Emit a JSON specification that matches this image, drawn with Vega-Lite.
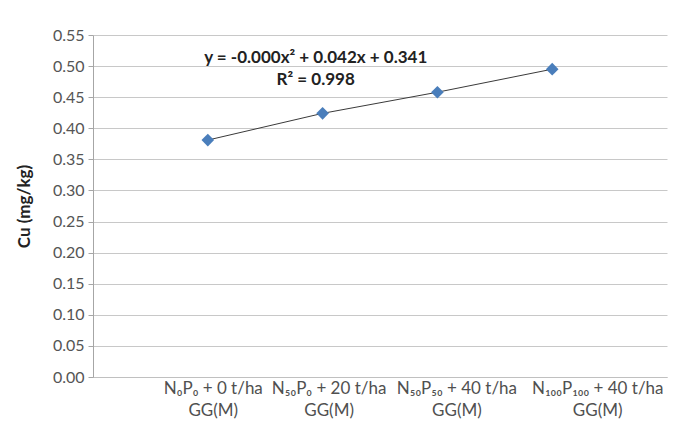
{
  "$schema": "https://vega.github.io/schema/vega-lite/v6.json",
  "autosize": "none",
  "width": 574,
  "height": 342,
  "padding": {"left": 93, "top": 35, "right": 11, "bottom": 48},
  "background": "white",
  "config": {
    "font": "Lato",
    "view": {"stroke": null}
  },
  "datasets": {
    "points": [
      {"pos": 1, "treatment": "N₀P₀ + 0 t/ha GG(M)", "cu": 0.381},
      {"pos": 2, "treatment": "N₅₀P₀ + 20 t/ha GG(M)", "cu": 0.424},
      {"pos": 3, "treatment": "N₅₀P₅₀ + 40 t/ha GG(M)", "cu": 0.458},
      {"pos": 4, "treatment": "N₁₀₀P₁₀₀ + 40 t/ha GG(M)", "cu": 0.495}
    ],
    "notes": [
      {"pos": 1.94, "cu": 0.513, "text": "y = -0.000x² + 0.042x + 0.341"},
      {"pos": 1.94, "cu": 0.4776, "text": "R² = 0.998"}
    ]
  },
  "encoding": {
    "x": {
      "field": "pos", "type": "quantitative",
      "scale": {"domain": [0, 5], "nice": false, "zero": false},
      "axis": {
        "values": [1, 2, 3, 4],
        "grid": false,
        "ticks": false,
        "domain": true,
        "domainColor": "#c0c0c0",
        "title": null,
        "labelFontSize": 17,
        "labelColor": "#505050",
        "labelPadding": 3,
        "labelLineHeight": 22,
        "labelOverlap": false,
        "labelOffset": {
          "condition": [
            {"test": "datum.value == 1", "value": 5},
            {"test": "datum.value == 2", "value": 6},
            {"test": "datum.value == 3", "value": 19}
          ],
          "value": 45
        },
        "labelExpr": "datum.value == 1 ? ['N₀P₀ + 0 t/ha', 'GG(M)'] : datum.value == 2 ? ['N₅₀P₀ + 20 t/ha', 'GG(M)'] : datum.value == 3 ? ['N₅₀P₅₀ + 40 t/ha', 'GG(M)'] : ['N₁₀₀P₁₀₀ + 40 t/ha', 'GG(M)']"
      }
    },
    "y": {
      "field": "cu", "type": "quantitative",
      "scale": {"domain": [0, 0.55], "nice": false},
      "axis": {
        "values": [0, 0.05, 0.1, 0.15, 0.2, 0.25, 0.3, 0.35, 0.4, 0.45, 0.5, 0.55],
        "format": ".2f",
        "grid": true,
        "gridColor": "#c8c8c8",
        "domainColor": "#a6a6a6",
        "tickColor": "#a6a6a6",
        "tickSize": 5,
        "labelFontSize": 16,
        "labelColor": "#555555",
        "labelPadding": 4,
        "labelOverlap": false,
        "title": "Cu (mg/kg)",
        "titleFontSize": 17,
        "titleFontWeight": "bold",
        "titleColor": "#222222",
        "titlePadding": 19
      }
    }
  },
  "layer": [
    {
      "data": {"name": "points"},
      "mark": {"type": "line", "color": "#3a3a3a", "strokeWidth": 1}
    },
    {
      "data": {"name": "points"},
      "mark": {"type": "point", "shape": "diamond", "filled": true, "opacity": 1, "size": 160, "color": "#4a7ebb"}
    },
    {
      "data": {"name": "notes"},
      "mark": {"type": "text", "fontSize": 17, "fontWeight": "bold", "color": "#222222", "align": "center", "baseline": "middle"},
      "encoding": {
        "text": {"field": "text"}
      }
    }
  ]
}
